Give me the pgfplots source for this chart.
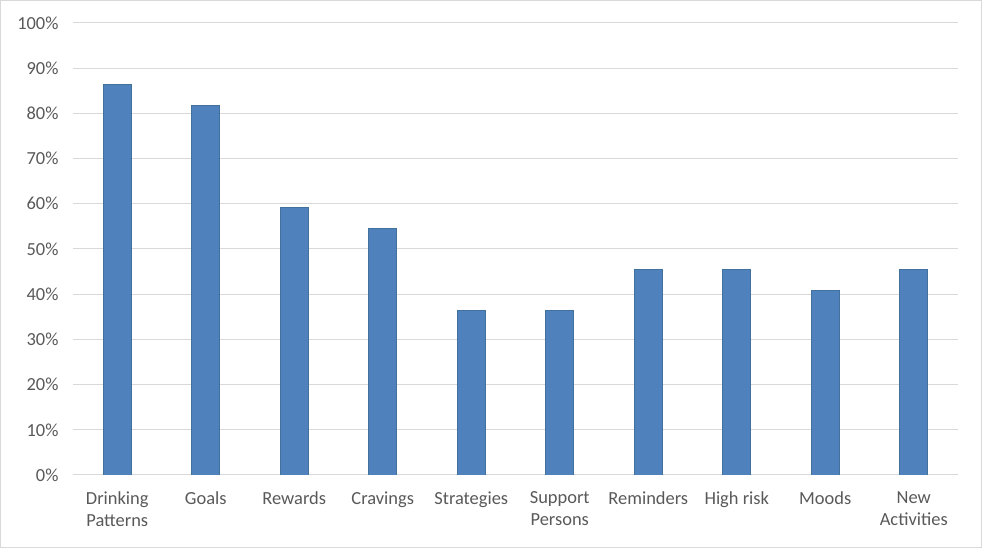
\documentclass[border=0pt]{standalone}
\usepackage{pgfplots}
\pgfplotsset{compat=1.18}
\usepackage{fontspec}
\setmainfont{Carlito}
\definecolor{barfill}{HTML}{4F81BD}
\definecolor{barline}{HTML}{41719C}
\definecolor{gridc}{HTML}{D9D9D9}
\definecolor{txt}{HTML}{595959}
\begin{document}
\begin{tikzpicture}[x=1bp,y=1bp]
\draw[gridc,line width=1bp] (0.5,0.5) rectangle (981.5,547.5);
\useasboundingbox (0,0) rectangle (982,548);
\begin{axis}[
    at={(73bp,73bp)}, anchor=south west,
    scale only axis,
    width=885bp, height=452bp,
    ybar, bar width=28bp,
    xmin=-0.5, xmax=9.5,
    ymin=0, ymax=100,
    xtick=data,
    xticklabels={{Drinking\\Patterns},Goals,Rewards,Cravings,Strategies,{Support\\Persons},Reminders,High risk,Moods,{New\\Activities}},
    x tick label style={align=center, font=\fontsize{18.5}{22}\selectfont, text=txt, anchor=north, yshift=-13bp},
    ytick={0,10,...,100},
    yticklabel={\pgfmathprintnumber{\tick}\%},
    y tick label style={font=\fontsize{18.5}{22}\selectfont, text=txt, xshift=-11bp},
    /pgf/number format/assume math mode=true,
    ymajorgrids,
    grid style={gridc, line width=1bp},
    axis line style={draw=none},
    axis x line*=bottom,
    x axis line style={gridc, line width=1bp},
    major tick length=0pt,
    tick style={draw=none},
    axis y line*=left,
    y axis line style={draw=none},
]
\addplot[fill=barfill, draw=barline, line width=0.8bp] coordinates {
    (0,86.4) (1,81.8) (2,59.1) (3,54.5) (4,36.4)
    (5,36.4) (6,45.5) (7,45.5) (8,40.9) (9,45.5)
};
\end{axis}
\end{tikzpicture}
\end{document}
